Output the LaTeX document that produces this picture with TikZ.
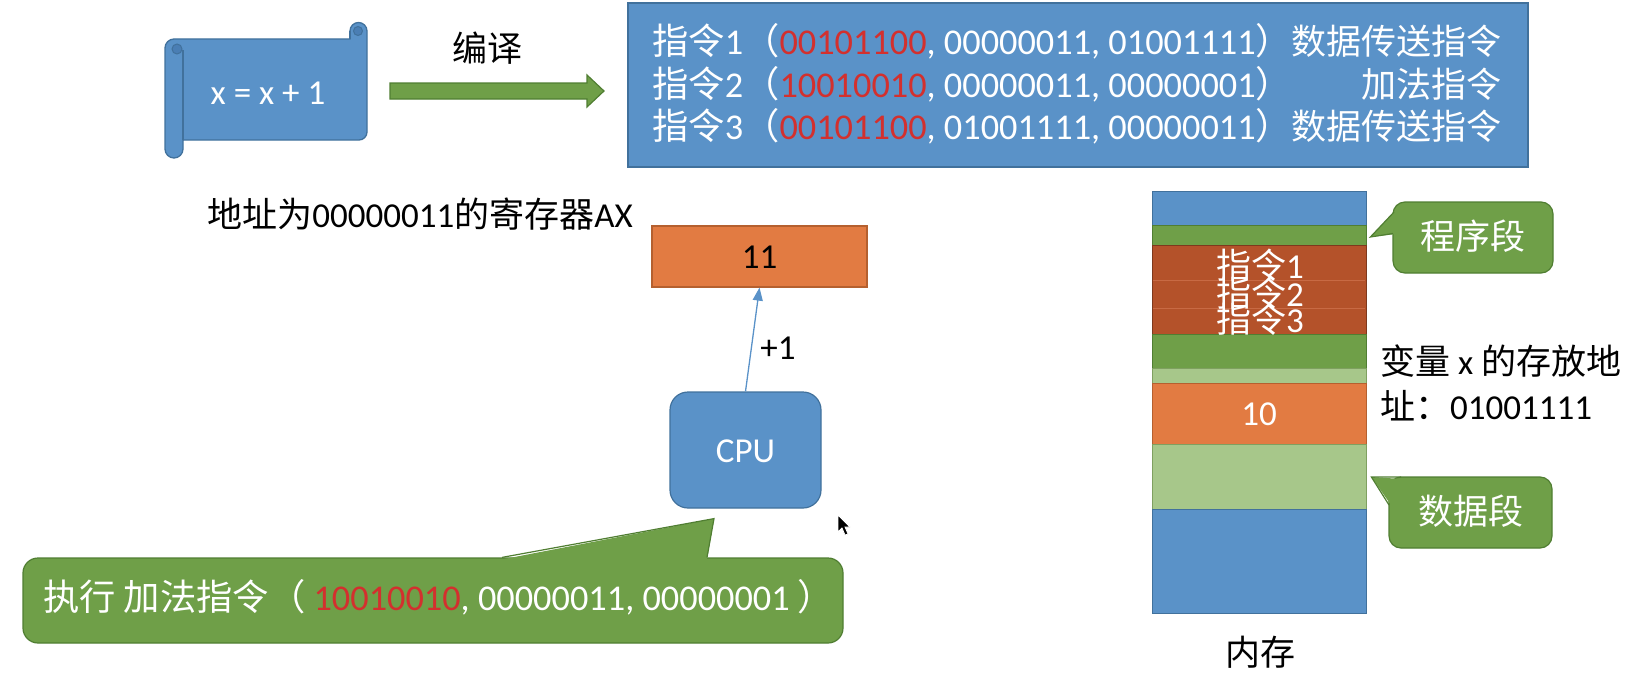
\documentclass[tikz,border=0pt]{standalone}
\usepackage{fontspec}
\setmainfont{Carlito}
\newfontfamily\cjk{Noto Sans CJK SC}
\usetikzlibrary{arrows.meta,calc}
\definecolor{pblue}{HTML}{5A92C8}
\definecolor{pbluedk}{HTML}{41719C}
\definecolor{pbluemid}{HTML}{4A7EB4}
\definecolor{pgreen}{HTML}{6F9F48}
\definecolor{pgreendk}{HTML}{507E32}
\definecolor{porange}{HTML}{E27B42}
\definecolor{porangedk}{HTML}{B5602F}
\definecolor{pbrown}{HTML}{B4522A}
\definecolor{pbrownln}{HTML}{C86A44}
\definecolor{plgreen}{HTML}{A7C78A}
\definecolor{plgreendk}{HTML}{7FA060}
\definecolor{pred}{HTML}{D3302E}
\newcommand{\zh}[1]{{\cjk #1}}
\newcommand{\rd}[1]{{\color{pred}#1}}
\begin{document}
\begin{tikzpicture}[x=1pt,y=-1pt,
  T/.style={inner sep=0pt, text height=28pt, text depth=4pt, font=\fontsize{35}{40}\selectfont},
  W/.style={T, text=white},
  WL/.style={W, font=\fontsize{36.3}{40}\selectfont},
  mseg/.style={minimum width=214pt, inner sep=0pt, line width=0.8pt},
  gcall/.style={W, draw=pgreendk, fill=pgreen, line width=1.2pt},
]
\useasboundingbox (0,0) rectangle (1638,677);

% ---------- scroll ----------
\filldraw[fill=pblue, draw=pbluedk, line width=1.3pt]
  (174,39) -- (350,39) -- (350,31) arc[start angle=180,end angle=360,radius=8.5]
  -- (367,132) arc[start angle=0,end angle=90,radius=8]
  -- (183,140) -- (183,149) arc[start angle=0,end angle=180,radius=9]
  -- (165,48) arc[start angle=180,end angle=270,radius=9] -- cycle;
\draw[pbluedk, line width=1.3pt] (183,50) -- (183,140);
\filldraw[fill=pbluemid, draw=pbluedk, line width=1pt] (177,49) circle[radius=5];
\draw[pbluedk, line width=1.3pt] (350,31) -- (350,39);
\filldraw[fill=pbluemid, draw=pbluedk, line width=1pt] (358,31) circle[radius=4.5];
\node[W] (src) at (268,92) {x = x + 1};

% ---------- compile arrow ----------
\node[T] (compile) at (487,50) {\zh{编译}};
\filldraw[fill=pgreen, draw=pgreendk, line width=1.2pt]
  (390,83) -- (587,83) -- (587,75) -- (604,91) -- (587,107) -- (587,99) -- (390,99) -- cycle;

% ---------- program box ----------
\node[draw=pbluedk, fill=pblue, line width=1.5pt, minimum width=900pt, minimum height=164pt, inner sep=0pt] (prog) at (1078,85) {};
\node[WL, anchor=west] (i1) at (652,43) {\zh{指令}1\zh{（}\rd{00101100}, 00000011, 01001111\zh{）}};
\node[W, anchor=east] (t1) at (1502,43) {\zh{数据传送指令}};
\node[WL, anchor=west] (i2) at (652,85) {\zh{指令}2\zh{（}\rd{10010010}, 00000011, 00000001\zh{）}};
\node[W, anchor=east] (t2) at (1502,85) {\zh{加法指令}};
\node[WL, anchor=west] (i3) at (652,127) {\zh{指令}3\zh{（}\rd{00101100}, 01001111, 00000011\zh{）}};
\node[W, anchor=east] (t3) at (1502,127) {\zh{数据传送指令}};

% ---------- register / CPU ----------
\node[T] (axlabel) at (420,215) {\zh{地址为}00000011\zh{的寄存器}AX};
\node[T, draw=porangedk, fill=porange, line width=1.2pt, minimum width=215pt, minimum height=61pt] (ax) at (759.5,256.5) {11};
\node[W, draw=pbluedk, fill=pblue, line width=1.2pt, rounded corners=18pt, minimum width=151pt, minimum height=116pt] (cpu) at (745.5,450) {CPU};
\draw[pblue, line width=1.3pt, -{Triangle[length=13pt,width=10pt]}] (cpu.north) -- (ax.south);
\node[T] (plus) at (778,347) {+1};

% ---------- execute callout ----------
\node[draw=pgreendk, fill=pgreen, line width=1.2pt, rounded corners=15pt, minimum width=820pt, minimum height=85pt, inner sep=0pt] (exec) at (433,600.5) {};
\coordinate (tipA) at ($(cpu.south)+(-31.5,10)$);
\coordinate (pa) at ($(exec.north)+(69,0)$);
\coordinate (pb) at ($(exec.north)+(274,0)$);
\fill[pgreen] ($(pa)+(0,2)$) -- (tipA) -- ($(pb)+(0,2)$) -- cycle;
\draw[pgreendk, line width=1.2pt] (pa) -- (tipA) -- (pb);
\node[WL, anchor=west] (exectext) at (43,598) {\zh{执行 加法指令（ }\rd{10010010}, 00000011, 00000001 \zh{）}};

% ---------- memory ----------
\node[mseg, fill=pblue, draw=pbluedk, minimum height=34pt] (m1) at (1259,208) {};
\node[mseg, fill=pgreen, draw=pgreendk, minimum height=20pt] (m2) at (1259,235) {};
\node[mseg, fill=pbrown, draw=pbrown!70!black, minimum height=89pt] (m3) at (1259,289.5) {};
\node[mseg, fill=pgreen, draw=pgreendk, minimum height=34pt] (m4) at (1259,351) {};
\node[mseg, fill=plgreen, draw=plgreendk, minimum height=15pt] (m5) at (1259,375.5) {};
\node[mseg, W, fill=porange, draw=porangedk, minimum height=61pt] (m6) at (1259,413.5) {10};
\node[mseg, fill=plgreen, draw=plgreendk, minimum height=65pt] (m7) at (1259,476.5) {};
\node[mseg, fill=pblue, draw=pbluedk, minimum height=104pt] (m8) at (1259,561) {};
\draw[pbrownln, line width=0.8pt] (1153,280) -- (1365,280);
\draw[pbrownln, line width=0.8pt] (1153,308) -- (1365,308);
\begin{scope}
  \clip (m3.north west) rectangle (m3.south east);
  \node[W] (ins1) at (1260,266) {\zh{指令}1};
  \node[W] (ins2) at (1260,294) {\zh{指令}2};
  \node[W] (ins3) at (1260,320) {\zh{指令}3};
\end{scope}
\node[T] (mem) at (1260,653) {\zh{内存}};

% ---------- segment callouts ----------
\node[gcall, rounded corners=12pt, minimum width=160pt, minimum height=71pt] (pseg) at (1473,237.5) {\zh{程序段}};
\coordinate (pt1) at ($(m2.east)+(4,2)$);
\fill[pgreen] (pt1) -- (1396,210) -- (1396,234) -- cycle;
\draw[pgreendk, line width=1.2pt] (1394,212) -- (pt1) -- (1393,233.5);

\node[gcall, rounded corners=12pt, minimum width=163pt, minimum height=71pt] (dseg) at (1470.5,512.5) {\zh{数据段}};
\coordinate (pt2) at ($(m7.east)+(5,0.5)$);
\fill[pgreen] (pt2) -- (1402,479) -- (1391,505) -- cycle;
\draw[pgreendk, line width=1.2pt] (1401,477) -- (pt2) -- (1389,505);

% ---------- variable address ----------
\node[T, anchor=west] (va1) at (1380,362) {\zh{变量 }x\zh{ 的存放地}};
\node[T, anchor=west] (va2) at (1380,407) {\zh{址：}01001111};

% ---------- cursor ----------
\filldraw[fill=black, draw=white, line width=0.8pt]
  (838,515) -- (838,532) -- (842,528) -- (845,535) -- (848,534) -- (845,527) -- (850,527) -- cycle;
\end{tikzpicture}
\end{document}
